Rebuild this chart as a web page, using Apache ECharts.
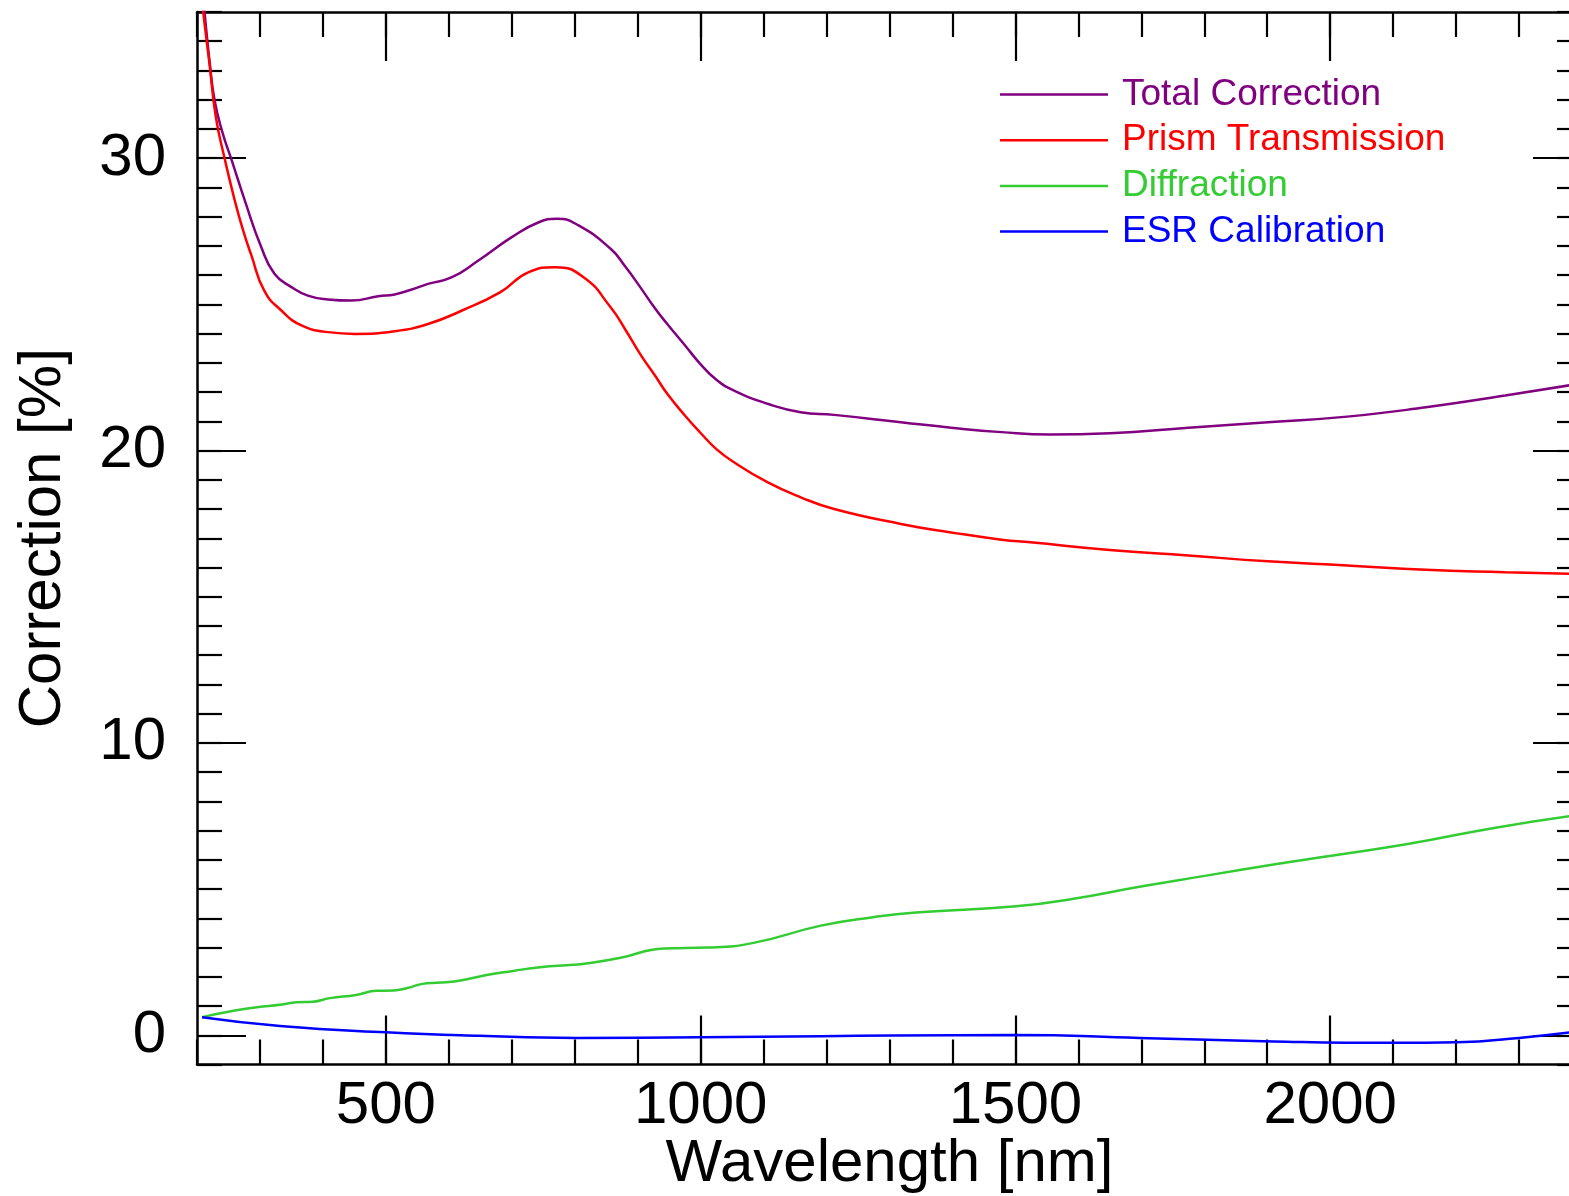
<!DOCTYPE html>
<html><head><meta charset="utf-8">
<script src="https://cdn.jsdelivr.net/npm/echarts@6/dist/echarts.min.js"></script>
<style>html,body{margin:0;padding:0;background:#fff;overflow:hidden}#c{width:1569px;height:1196px}</style>
</head><body><div id="c"></div>
<script>
const seriesNames = ['Total Correction', 'Prism Transmission', 'Diffraction', 'ESR Calibration'];
const seriesColors = ['#800080', '#ff0000', '#33cc33', '#0000ff'];

const totalWl = [208, 212, 220, 228, 241, 254, 276, 302, 323, 350, 376, 408, 445, 488, 514, 540, 567, 605, 647, 700, 742, 772, 806, 857, 880, 904, 928, 947, 975, 1000, 1025, 1053, 1106, 1159, 1212, 1318, 1398, 1478, 1555, 1650, 1775, 1901, 2027, 2152, 2278, 2400];
const totalVal = [36.0, 35.0, 33.3, 31.97, 30.84, 30.0, 28.55, 26.96, 26.05, 25.59, 25.3, 25.17, 25.13, 25.28, 25.34, 25.5, 25.70, 25.93, 26.5, 27.3, 27.8, 27.93, 27.7, 26.9, 26.3, 25.59, 24.85, 24.33, 23.6, 22.95, 22.42, 22.05, 21.6, 21.31, 21.22, 20.97, 20.78, 20.63, 20.55, 20.59, 20.78, 20.97, 21.16, 21.48, 21.88, 22.3];

const prismWl = [208, 212, 220, 230, 244, 260, 273, 286, 307, 334, 366, 408, 451, 514, 567, 621, 682, 727, 769, 814, 857, 880, 904, 928, 947, 975, 1000, 1025, 1053, 1106, 1159, 1212, 1318, 1398, 1478, 1524, 1650, 1775, 1901, 2027, 2152, 2278, 2400];
const prismVal = [35.4, 34.6, 33.2, 31.4, 29.98, 28.55, 27.55, 26.7, 25.46, 24.79, 24.28, 24.05, 23.99, 24.08, 24.33, 24.79, 25.42, 26.1, 26.27, 25.93, 24.9, 24.15, 23.3, 22.55, 21.94, 21.2, 20.6, 20.05, 19.6, 18.92, 18.4, 18.0, 17.49, 17.2, 16.95, 16.86, 16.6, 16.41, 16.21, 16.07, 15.92, 15.84, 15.77];

const diffWl = [208, 252, 295, 332, 358, 384, 411, 453, 485, 512, 533, 565, 596, 623, 660, 702, 745, 798, 821, 871, 942, 1013, 1084, 1191, 1271, 1342, 1501, 1590, 1697, 1803, 1910, 2002, 2123, 2265, 2400];
const diffVal = [0.62, 0.81, 0.96, 1.04, 1.13, 1.15, 1.27, 1.38, 1.52, 1.53, 1.61, 1.78, 1.81, 1.89, 2.06, 2.20, 2.33, 2.41, 2.46, 2.64, 2.97, 3.0, 3.16, 3.75, 4.03, 4.2, 4.41, 4.66, 5.08, 5.46, 5.84, 6.14, 6.54, 7.11, 7.55];

const esrWl = [208, 332, 500, 649, 803, 1000, 1191, 1305, 1501, 1697, 1910, 2101, 2201, 2300, 2400];
const esrVal = [0.62, 0.32, 0.10, -0.02, -0.09, -0.07, -0.03, -0.01, 0.01, -0.09, -0.21, -0.26, -0.24, -0.09, 0.15];

const xMajorTicks = [500, 1000, 1500, 2000];
const yMajorTicks = [0, 10, 20, 30];

const FONT = "'Liberation Sans', Arial, Helvetica, sans-serif";
const xMin = 200, xMax = 2400, yMin = -1, yMax = 35;

function zip(a, b) { return a.map((x, i) => [x, b[i]]); }
const seriesData = [zip(totalWl, totalVal), zip(prismWl, prismVal), zip(diffWl, diffVal), zip(esrWl, esrVal)];

const tickStyle = { color: '#000', width: 2.2 };
function xAxisDef(pos, major, labels) {
  return {
    type: 'value', position: pos, min: xMin, max: xMax,
    interval: major ? undefined : 100,
    splitLine: { show: false },
    axisLine: { show: major, onZero: false, lineStyle: { color: '#000', width: 2.5 } },
    axisTick: major ? { show: true, inside: true, length: 49, lineStyle: tickStyle, customValues: xMajorTicks }
                    : { show: true, inside: true, length: 25, lineStyle: tickStyle },
    axisLabel: labels ? { show: true, customValues: xMajorTicks, formatter: v => String(v), fontSize: 60, fontFamily: FONT, color: '#000', margin: 12 } : { show: false },
    name: labels ? 'Wavelength [nm]' : '',
    nameLocation: 'middle', nameGap: 70, nameMoveOverlap: false,
    nameTextStyle: { fontSize: 60, fontFamily: FONT, color: '#000' }
  };
}
function yAxisDef(pos, major, labels) {
  return {
    type: 'value', position: pos, min: yMin, max: yMax,
    interval: major ? undefined : 1,
    splitLine: { show: false },
    axisLine: { show: major, onZero: false, lineStyle: { color: '#000', width: 2.5 } },
    axisTick: major ? { show: true, inside: true, length: 49, lineStyle: tickStyle, customValues: yMajorTicks }
                    : { show: true, inside: true, length: 25, lineStyle: tickStyle },
    axisLabel: labels ? { show: true, customValues: yMajorTicks, formatter: v => String(v), fontSize: 60, fontFamily: FONT, color: '#000', margin: 31 } : { show: false },
    name: labels ? 'Correction [%]' : '',
    nameLocation: 'middle', nameGap: 124, nameMoveOverlap: false,
    nameTextStyle: { fontSize: 60, fontFamily: FONT, color: '#000' }
  };
}

const chart = echarts.init(document.getElementById('c'), null, { renderer: 'canvas' });
chart.setOption({
  animation: false,
  backgroundColor: '#fff',
  grid: { left: 197, right: -13, top: 12, bottom: 131.5, containLabel: false, outerBoundsMode: 'none' },
  xAxis: [xAxisDef('bottom', false, false), xAxisDef('bottom', true, true), xAxisDef('top', false, false), xAxisDef('top', true, false)],
  yAxis: [yAxisDef('left', false, false), yAxisDef('left', true, true), yAxisDef('right', false, false), yAxisDef('right', true, false)],
  legend: {
    left: 1000, top: 76, orient: 'vertical', padding: 0,
    itemWidth: 108, itemHeight: 2.5, itemGap: 8.7, icon: 'rect',
    data: seriesNames.map((n, i) => ({ name: n, textStyle: { color: seriesColors[i] } })),
    textStyle: { fontSize: 37, fontFamily: FONT, lineHeight: 37, padding: [0, 0, 0, 9] }
  },
  series: seriesNames.map((n, i) => ({
    name: n, type: 'line', xAxisIndex: 0, yAxisIndex: 0,
    data: seriesData[i], symbol: 'none', smooth: 0.5,
    lineStyle: { color: seriesColors[i], width: 2.5 },
    itemStyle: { color: seriesColors[i] }
  }))
});
</script></body></html>
